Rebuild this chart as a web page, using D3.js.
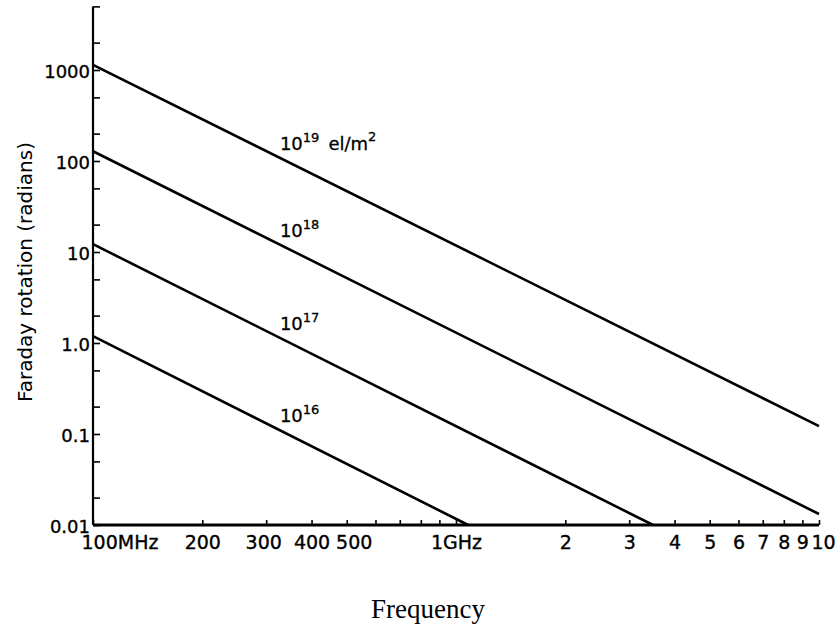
<!DOCTYPE html>
<html>
<head>
<meta charset="utf-8">
<script src="https://cdn.jsdelivr.net/npm/d3@7/dist/d3.min.js"></script>
<style>
  html, body { margin: 0; padding: 0; background: #fff; }
  svg { display: block; }
  .tick text { font-family: "DejaVu Sans", sans-serif; fill: #000; stroke: #000; stroke-width: 0.35; }
</style>
</head>
<body>
<svg id="chart" width="837" height="632"></svg>
<script>
// Faraday rotation versus frequency for several total electron contents
const tecExponents = [19, 18, 17, 16];          // electron content, 10^n el/m^2
const freqStart   = [100, 100, 100, 100];        // MHz
const rotStart    = [1140, 128, 12.2, 1.19];     // radians at freqStart
const freqEnd     = [10000, 10000, 3490, 1080];  // MHz
const rotEnd      = [0.122, 0.0132, 0.01, 0.01]; // radians at freqEnd

const xTickValues = [100, 200, 300, 400, 500, 600, 700, 800, 900,
                     1000, 2000, 3000, 4000, 5000, 6000, 7000, 8000, 9000, 10000];
const xTickLabels = ["100MHz", "200", "300", "400", "500", "", "", "", "",
                     "1GHz", "2", "3", "4", "5", "6", "7", "8", "9", "10"];

const yTickValues = [0.01, 0.02, 0.05, 0.1, 0.2, 0.5, 1, 2, 5, 10, 20, 50,
                     100, 200, 500, 1000, 2000, 5000];
const yTickLabels = ["0.01", "", "", "0.1", "", "", "1.0", "", "", "10", "", "",
                     "100", "", "", "1000", "", ""];

const xTitle = "Frequency";
const yTitle = "Faraday rotation (radians)";

const svg = d3.select("#chart");
const left = 93, right = 819, bottom = 525, decadePx = 91;

const x = d3.scaleLog().domain([100, 10000]).range([left, right]);
const y = d3.scaleLog().domain([0.01, 5000])
  .range([bottom, bottom - Math.log10(5000 / 0.01) * decadePx]);

// x axis: short ticks pointing up into the plot
const xLabel = new Map(xTickValues.map((v, i) => [v, xTickLabels[i]]));
const xNudge = new Map([[100, -12], [300, -3], [500, 7], [10000, 4]]);
const gx = svg.append("g")
  .attr("transform", `translate(0,${bottom})`)
  .call(d3.axisBottom(x).tickValues(xTickValues)
    .tickFormat(v => xLabel.get(v)).tickSize(-5).tickPadding(17));
gx.select(".domain").attr("stroke", "#000").attr("stroke-width", 2.8)
  .attr("d", `M${left},0H${right}`);
gx.selectAll(".tick line").attr("stroke", "#000").attr("stroke-width", 1.6);
gx.selectAll(".tick text").attr("font-size", 19).attr("dy", "0.35em")
  .attr("dx", v => xNudge.get(v) || 0);
gx.selectAll(".tick text").filter(v => v === 100).attr("text-anchor", "start");

// y axis: ticks pointing right into the plot
const yLabel = new Map(yTickValues.map((v, i) => [v, yTickLabels[i]]));
const gy = svg.append("g")
  .attr("transform", `translate(${left},0)`)
  .call(d3.axisLeft(y).tickValues(yTickValues)
    .tickFormat(v => yLabel.get(v)).tickSize(-7).tickPadding(3));
gy.select(".domain").attr("stroke", "#000").attr("stroke-width", 2.2)
  .attr("d", `M0,${y(5000)}V${bottom}`);
gy.selectAll(".tick line").attr("stroke", "#000").attr("stroke-width", 1.6);
gy.selectAll(".tick text").attr("font-size", 18).attr("dy", "0.4em")
  .attr("x", -3);

// rotation lines
const line = d3.line().x(d => x(d[0])).y(d => y(d[1]));
const series = tecExponents.map((e, i) => ({
  exp: e,
  pts: [[freqStart[i], rotStart[i]], [freqEnd[i], rotEnd[i]]]
}));

svg.append("g").selectAll("path").data(series).join("path")
  .attr("d", d => line(d.pts))
  .attr("fill", "none").attr("stroke", "#000").attr("stroke-width", 2.6);

// electron-content labels sitting just above each line
const labelFreq = 340;
const rotAt = (d, f) => {
  const [f0, r0] = d.pts[0], [f1, r1] = d.pts[1];
  const t = Math.log(f / f0) / Math.log(f1 / f0);
  return Math.exp(Math.log(r0) + t * Math.log(r1 / r0));
};
const labels = svg.append("g")
  .attr("font-family", "DejaVu Sans, sans-serif").attr("fill", "#000")
  .attr("stroke", "#000").attr("stroke-width", 0.3)
  .selectAll("text").data(series).join("text")
  .attr("x", d => x(labelFreq) - 6)
  .attr("y", d => y(rotAt(d, labelFreq)) - 11)
  .attr("font-size", 18);
labels.append("tspan").text("10");
labels.append("tspan").text(d => d.exp).attr("font-size", 13).attr("dy", -8);
labels.filter(d => d.exp === 19).append("tspan").text("el/m")
  .attr("dy", 8).attr("dx", 9);
labels.filter(d => d.exp === 19).append("tspan").text("2")
  .attr("font-size", 13).attr("dy", -9);

// axis titles
svg.append("text")
  .attr("transform", `translate(32,272) rotate(-90)`)
  .attr("text-anchor", "middle")
  .attr("font-family", "DejaVu Sans, sans-serif").attr("font-size", 20)
  .text(yTitle);

svg.append("text")
  .attr("x", 428).attr("y", 618)
  .attr("text-anchor", "middle")
  .attr("font-family", "Liberation Serif, Times New Roman, serif")
  .attr("font-size", 27)
  .text(xTitle);
</script>
</body>
</html>
